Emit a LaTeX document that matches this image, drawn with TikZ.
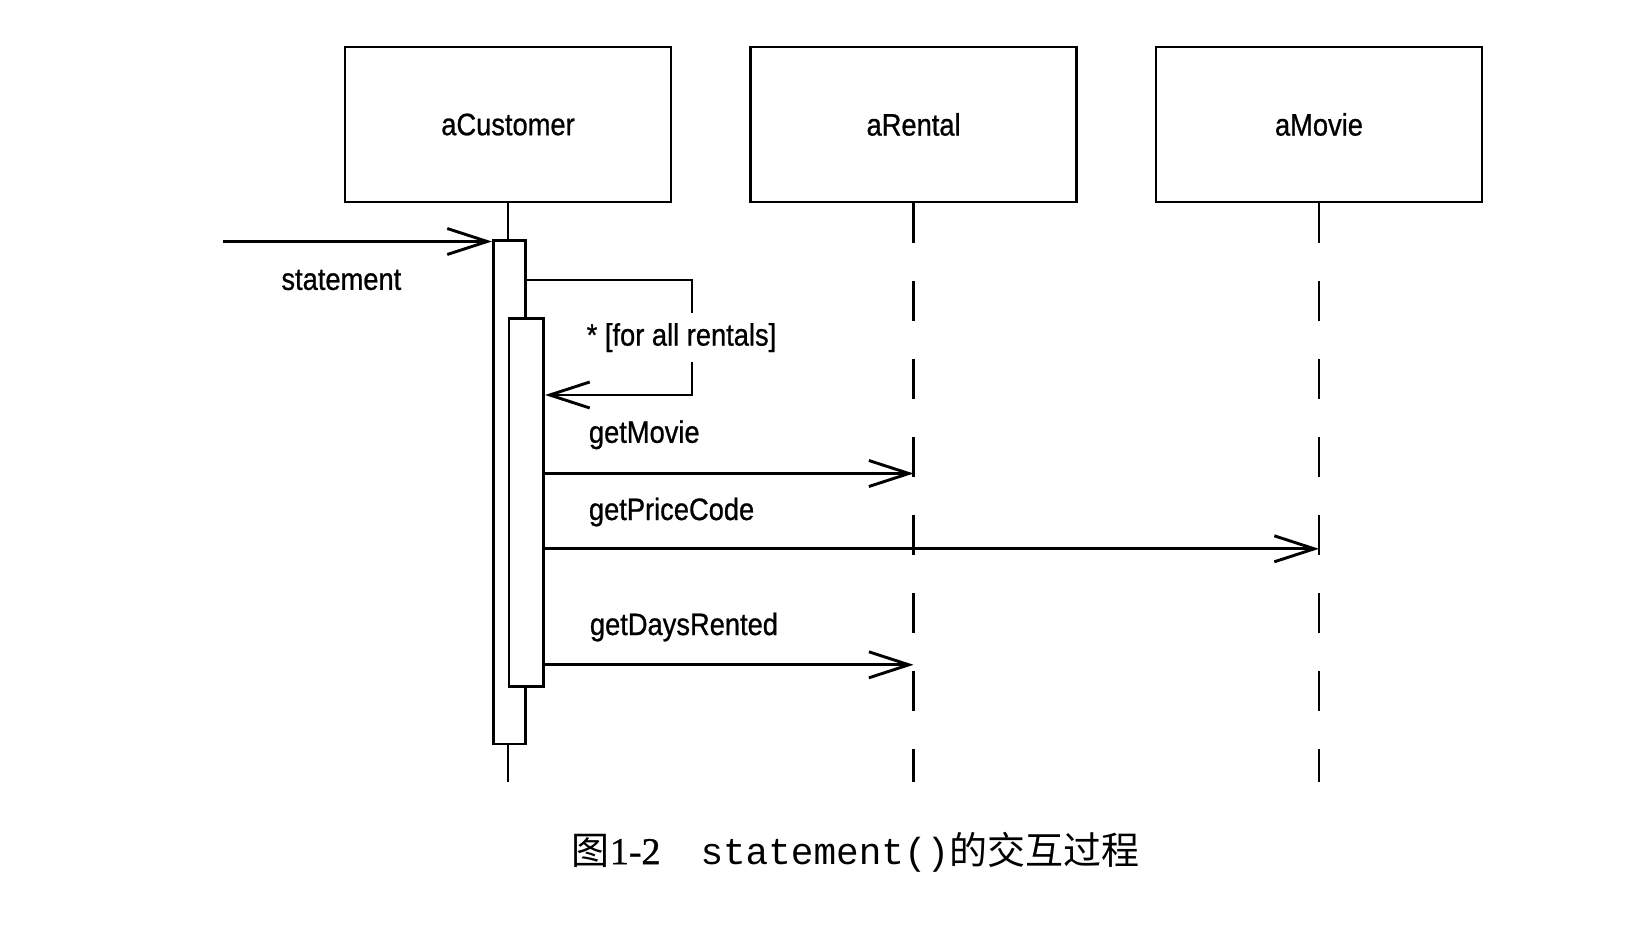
\documentclass[tikz,border=0pt]{standalone}
\usepackage{fontspec}
\usetikzlibrary{arrows.meta}
\newfontfamily\umlfont[FakeStretch=0.88,FakeBold=0.8]{Liberation Sans}
\newfontfamily\cjkfont{Noto Sans CJK SC}
\newfontfamily\codefont{Liberation Mono}
\newfontfamily\numfont[FakeBold=1]{Liberation Serif}

\begin{document}
\begin{tikzpicture}[x=1pt,y=-1pt,line width=2.9pt]
  \tikzstyle{every node}=[font=\umlfont\fontsize{31}{37}\selectfont]
  \tikzstyle{object}=[draw,minimum width=326pt,minimum height=155pt]
  \tikzstyle{activation}=[draw,fill=white,inner sep=0pt]
  \tikzstyle{lifeline}=[dash pattern=on 40pt off 38pt]
  \tikzstyle{message}=[-{Straight Barb[length=40pt,width=26pt]}]
  \tikzstyle{msglabel}=[anchor=west,inner sep=0pt]
  \tikzstyle{guard}=[fill=white,inner xsep=0pt,inner ysep=10pt]
  \useasboundingbox (0,0) rectangle (1639,941);
  \node[object] (customer) at (508,124.5) {aCustomer};
  \node[object] (rental) at (913.6,124.5) {aRental};
  \node[object] (movie) at (1319,124.5) {aMovie};
  \coordinate (lifeend) at (0,782);
  \draw (customer.south) -- (customer.south |- lifeend);
  \draw[lifeline] (rental.south) -- (rental.south |- lifeend);
  \draw[lifeline] (movie.south) -- (movie.south |- lifeend);
  \node[activation,minimum width=32.4pt,minimum height=503.6pt] (outer) at (509.6,492.2) {};
  \node[activation,minimum width=34.6pt,minimum height=368pt] (inner) at (526.3,502.8) {};
  % statement
  \coordinate (entry) at (222.6,241.5);
  \draw[message] (entry) -- (entry -| outer.west);
  \node[msglabel] (statement) at (280,280) {statement};
  % loop over rentals
  \coordinate (loop) at (692,280);
  \coordinate (m0) at (0,395);
  \draw[message] (outer.east |- loop) -- (loop) |- (inner.east |- m0);
  \node[guard] (forall) at (681.5,337.6) {* [for all rentals]};
  \coordinate (m1) at (0,473.5);
  \coordinate (m2) at (0,548.8);
  \coordinate (m3) at (0,664.8);
  \draw[message] (inner.east |- m1) -- (rental.south |- m1);
  \draw[message] (inner.east |- m2) -- (movie.south |- m2);
  \draw[message] (inner.east |- m3) -- (rental.south |- m3);
  \node[msglabel] (getmovie) at (587.5,434.8) {getMovie};
  \node[msglabel] (getpricecode) at (587.5,512) {getPriceCode};
  \node[msglabel] (getdaysrented) at (588.5,627) {getDaysRented};
  \node (caption) at (855.6,852) {{\cjkfont\fontsize{38}{44}\selectfont 图}{\numfont\fontsize{38}{44}\selectfont 1-2}\hspace{40pt}{\codefont\fontsize{37.7}{44}\selectfont statement()}{\cjkfont\fontsize{38}{44}\selectfont 的交互过程}};
\end{tikzpicture}
\end{document}
